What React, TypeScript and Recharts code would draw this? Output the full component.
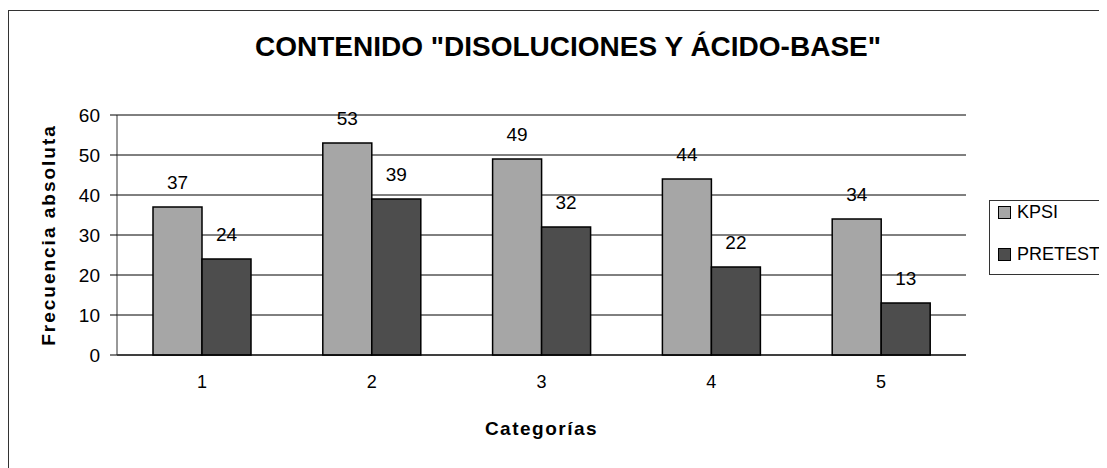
import React from 'react';
import {
  BarChart,
  Bar,
  XAxis,
  YAxis,
  CartesianGrid,
  Legend,
  LabelList,
  Label,
  ReferenceLine,
} from 'recharts';

const categorias = ['1', '2', '3', '4', '5'];
const kpsi = [37, 53, 49, 44, 34];
const pretest = [24, 39, 32, 22, 13];
const yTicks = [0, 10, 20, 30, 40, 50, 60];
const bandTicks = [0, 1, 2, 3, 4, 5];

const data = categorias.map((c, i) => ({
  categoria: c,
  KPSI: kpsi[i],
  PRETEST: pretest[i],
}));

const FONT = '"Liberation Sans", Arial, sans-serif';

const LeyendaCaja = () => (
  <div
    style={{
      width: 140,
      height: 75,
      border: '1px solid #333',
      background: '#fff',
      fontFamily: FONT,
      fontSize: 18,
      color: '#000',
      boxSizing: 'border-box',
      paddingTop: 1,
      paddingLeft: 8,
      lineHeight: '20px',
    }}
  >
    {[
      { nombre: 'KPSI', color: '#a6a6a6' },
      { nombre: 'PRETEST', color: '#4d4d4d' },
    ].map((it, i) => (
      <div
        key={it.nombre}
        style={{ display: 'flex', alignItems: 'center', marginTop: i === 0 ? 0 : 22 }}
      >
        <span
          style={{
            display: 'inline-block',
            width: 11,
            height: 11,
            background: it.color,
            border: '1px solid #000',
            marginRight: 6,
          }}
        />
        {it.nombre}
      </div>
    ))}
  </div>
);

const App: React.FC = () => {
  return (
    <div
      style={{
        position: 'relative',
        width: 1099,
        height: 460,
        overflow: 'hidden',
        fontFamily: FONT,
        background: '#fff',
      }}
    >
      <div
        style={{
          position: 'absolute',
          left: 0,
          top: 2,
          width: 1200,
          height: 600,
          border: '1px solid #333',
        }}
      />
      <div
        style={{
          position: 'absolute',
          left: 0,
          top: 23,
          width: 1120,
          textAlign: 'center',
          fontWeight: 'bold',
          fontSize: 28,
          color: '#000',
        }}
      >
        CONTENIDO "DISOLUCIONES Y ÁCIDO-BASE"
      </div>
      <div style={{ position: 'absolute', left: 0, top: 0 }}>
        <BarChart
          width={1099}
          height={460}
          data={data}
          margin={{ top: 107, right: 141, bottom: 28, left: 9 }}
          barGap={0}
          barCategoryGap={36}
        >
          <CartesianGrid vertical={false} stroke="#000" strokeWidth={1} />
          <XAxis
            xAxisId="bordes"
            type="number"
            domain={[0, 5]}
            ticks={bandTicks}
            height={0}
            axisLine={false}
            tickSize={6}
            tickLine={{ stroke: '#000' }}
            tickFormatter={() => ''}
          />
          <XAxis
            dataKey="categoria"
            height={85}
            tickLine={false}
            axisLine={{ stroke: '#000' }}
            tickMargin={14}
            tick={{ fill: '#000', fontSize: 18, fontFamily: FONT }}
          >
            <Label
              value="Categorías"
              position="center"
              dy={31}
              style={{ fontWeight: 'bold', fontSize: 19, letterSpacing: 1.5, fill: '#000', fontFamily: FONT }}
            />
          </XAxis>
          <YAxis
            width={100}
            domain={[0, 60]}
            ticks={yTicks}
            tickSize={7}
            tickMargin={10}
            axisLine={{ stroke: '#333' }}
            tickLine={{ stroke: '#000' }}
            tick={{ fill: '#000', fontSize: 19, fontFamily: FONT }}
          >
            <Label
              value="Frecuencia absoluta"
              angle={-90}
              position="center"
              dx={-19}
              style={{
                fontWeight: 'bold',
                fontSize: 19,
                letterSpacing: 2,
                fill: '#000',
                fontFamily: FONT,
                textAnchor: 'middle',
              }}
            />
          </YAxis>
          <ReferenceLine y={60} stroke="#808080" />
          <ReferenceLine x={5} xAxisId="bordes" stroke="#808080" />
          <Legend
            layout="horizontal"
            verticalAlign="middle"
            align="center"
            wrapperStyle={{ left: 981, top: 192, width: 140 }}
            content={() => <LeyendaCaja />}
          />
          <Bar dataKey="KPSI" fill="#a6a6a6" stroke="#000" strokeWidth={1.5} isAnimationActive={false}>
            <LabelList
              dataKey="KPSI"
              position="top"
              offset={18}
              style={{ fill: '#000', fontSize: 19, fontFamily: FONT }}
            />
          </Bar>
          <Bar dataKey="PRETEST" fill="#4d4d4d" stroke="#000" strokeWidth={1.5} isAnimationActive={false}>
            <LabelList
              dataKey="PRETEST"
              position="top"
              offset={18}
              style={{ fill: '#000', fontSize: 19, fontFamily: FONT }}
            />
          </Bar>
        </BarChart>
      </div>
    </div>
  );
};

export default App;
